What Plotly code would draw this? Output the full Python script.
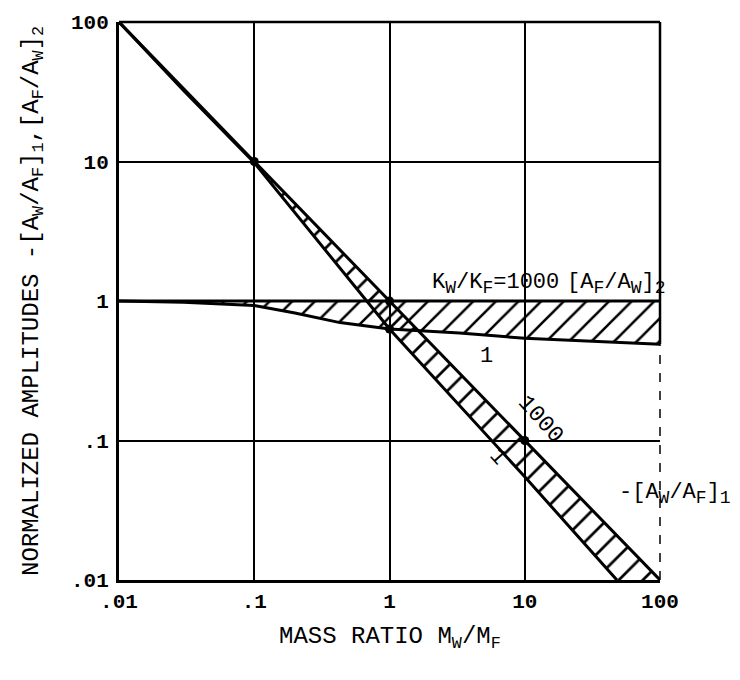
import numpy as np
import plotly.graph_objects as go

# ---- data (log-log) ----
mass_ratio_stiff = [0.01, 0.1, 1, 10, 100]
aw_af_stiff = [100, 10, 1, 0.1, 0.01]            # K_W/K_F = 1000, -[A_W/A_F]_1
mass_ratio_soft = [0.01, 0.03, 0.1, 1, 10, 48]
aw_af_soft = [100, 32.3, 9.8, 0.63, 0.055, 0.01]   # K_W/K_F = 1, -[A_W/A_F]_1

mass_ratio_h = [0.01, 100]
af_aw_stiff = [1, 1]                              # K_W/K_F = 1000, [A_F/A_W]_2
mass_ratio_hs = [0.01, 0.03, 0.1, 0.2, 0.43, 1, 3.3, 10, 100]
af_aw_soft = [1.0, 0.98, 0.93, 0.82, 0.70, 0.63, 0.59, 0.54, 0.49]  # K_W/K_F = 1

dot_x = [0.1, 1, 1, 10]
dot_y = [10, 1, 0.63, 0.1]

x_ticks = [0.01, 0.1, 1, 10, 100]
x_ticktext = [".01", ".1", "1", "10", "100"]
y_ticks = [0.01, 0.1, 1, 10, 100]
y_ticktext = [".01", ".1", "1", "10", "100"]

FONT = "Liberation Mono"
BLK = "black"


def sub(t, px):
    return f"<sub><span style='font-size:{px}px'>{t}</span></sub>"


fig = go.Figure()

# horizontal band [A_F/A_W]_2
fig.add_trace(go.Scatter(x=mass_ratio_h, y=af_aw_stiff, mode="lines",
                         line=dict(color=BLK, width=3), showlegend=False))
fig.add_trace(go.Scatter(x=mass_ratio_hs, y=af_aw_soft, mode="lines",
                         line=dict(color=BLK, width=3), fill="tonexty",
                         fillcolor="rgba(0,0,0,0)",
                         fillpattern=dict(shape="/", fgcolor=BLK, fgopacity=1,
                                          bgcolor="rgba(0,0,0,0)",
                                          size=16, solidity=0.16),
                         showlegend=False))
# diagonal band -[A_W/A_F]_1
fig.add_trace(go.Scatter(x=mass_ratio_stiff, y=aw_af_stiff, mode="lines",
                         line=dict(color=BLK, width=3), showlegend=False))
fig.add_trace(go.Scatter(x=mass_ratio_soft, y=aw_af_soft, mode="lines",
                         line=dict(color=BLK, width=3), fill="tonexty",
                         fillcolor="rgba(0,0,0,0)",
                         fillpattern=dict(shape="/", fgcolor=BLK, fgopacity=1,
                                          bgcolor="rgba(0,0,0,0)",
                                          size=17, solidity=0.16),
                         showlegend=False))
fig.add_trace(go.Scatter(x=dot_x, y=dot_y, mode="markers",
                         marker=dict(color=BLK, size=9), showlegend=False))

annots = [
    dict(x=0.30, y=0.12, text="K" + sub("W", 18) + "/K" + sub("F", 18) + "=1000",
         xanchor="left", size=22),
    dict(x=1.30, y=0.12, text="[A" + sub("F", 18) + "/A" + sub("W", 18) + "]" + sub("2", 18),
         xanchor="left", size=22),
    dict(x=0.72, y=-0.40, text="1", xanchor="center", size=22),
    dict(x=1.12, y=-0.85, text="1000", xanchor="center", textangle=48, size=23),
    dict(x=0.80, y=-1.12, text="1", xanchor="center", textangle=48, size=22),
    dict(x=1.68, y=-1.38, text="-[A" + sub("W", 18) + "/A" + sub("F", 18) + "]" + sub("1", 18),
         xanchor="left", size=22),
]
for a in annots:
    size = a.pop("size")
    fig.add_annotation(xref="x", yref="y", showarrow=False, yanchor="middle",
                       font=dict(family=FONT, size=size, color=BLK), **a)

# axis titles
fig.add_annotation(xref="paper", yref="paper", x=0.5, y=0, yshift=-58,
                   text="MASS RATIO M<sub>W</sub>/M<sub>F</sub>", showarrow=False,
                   yanchor="middle", font=dict(family=FONT, size=24, color=BLK))
fig.add_annotation(xref="paper", yref="paper", x=0, xshift=-86, y=0.5,
                   text="NORMALIZED AMPLITUDES -[A<sub>W</sub>/A<sub>F</sub>]<sub>1</sub>,"
                        "[A<sub>F</sub>/A<sub>W</sub>]<sub>2</sub>",
                   textangle=-90, showarrow=False, xanchor="center", yanchor="middle",
                   font=dict(family=FONT, size=24, color=BLK))

# top border and right border (partly broken in the scan)
band_end = (np.log10(af_aw_soft[-1]) + 2) / 4
fig.add_shape(type="line", xref="paper", yref="paper", x0=0, x1=1, y0=1, y1=1,
              line=dict(color=BLK, width=2.5))
fig.add_shape(type="line", xref="paper", yref="paper", x0=1, x1=1, y0=band_end, y1=1,
              line=dict(color=BLK, width=2.5))
fig.add_shape(type="line", xref="paper", yref="paper", x0=1, x1=1, y0=0, y1=band_end,
              line=dict(color=BLK, width=1.5, dash="dash"))

axis_common = dict(type="log", range=[-2, 2], showgrid=True, gridcolor=BLK, gridwidth=2,
                   showline=True, linecolor=BLK, linewidth=3, mirror=False,
                   ticks="", zeroline=False,
                   tickfont=dict(family=FONT, size=21, color=BLK, weight="bold"))
fig.update_xaxes(tickvals=x_ticks, ticktext=x_ticktext, ticklabelstandoff=0, **axis_common)
fig.update_yaxes(tickvals=y_ticks, ticktext=y_ticktext, ticklabelstandoff=3, **axis_common)

fig.update_layout(width=740, height=680, margin=dict(l=119, r=80, t=18, b=100),
                  plot_bgcolor="white", paper_bgcolor="white", showlegend=False)

fig.write_html("out.html")
